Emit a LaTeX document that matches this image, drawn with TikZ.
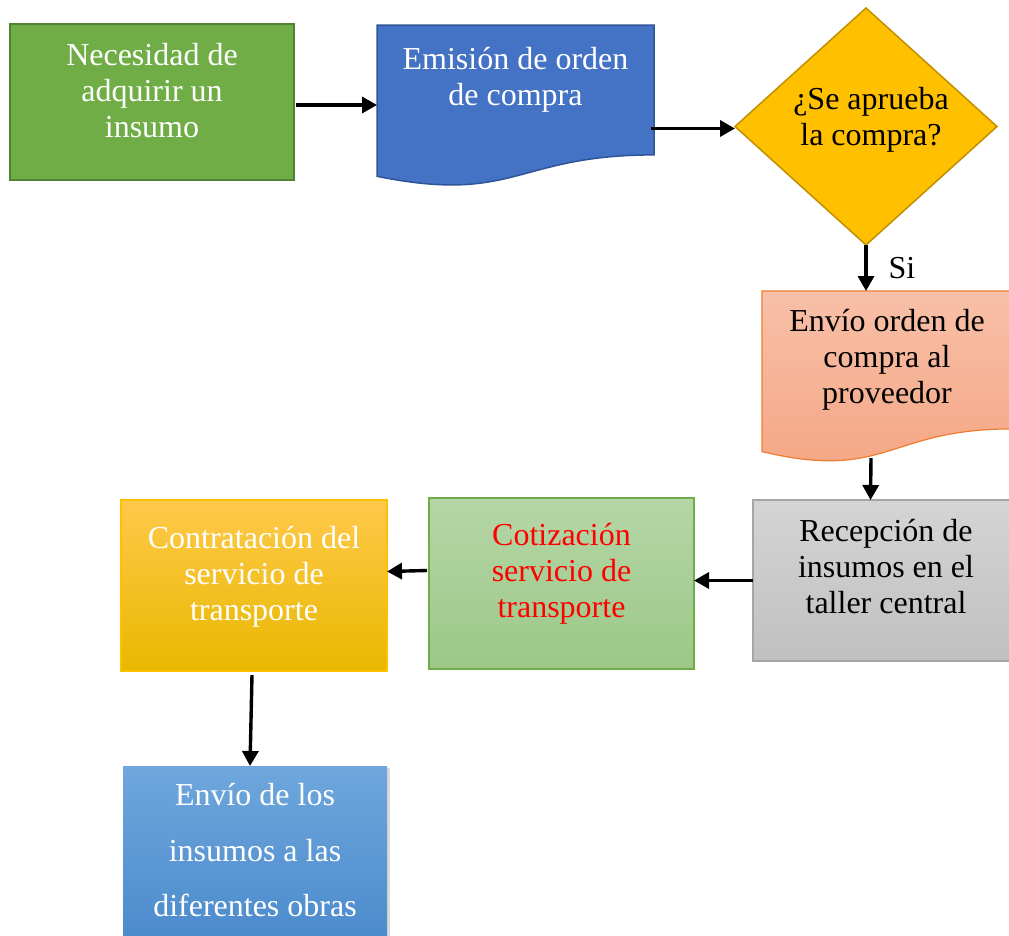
\documentclass[tikz,border=0pt]{standalone}
\usepackage{fontspec}
\setmainfont{Liberation Serif}
\usetikzlibrary{shapes.geometric,arrows.meta,shadows,calc}
\definecolor{gfill}{HTML}{70AD47}
\definecolor{gdraw}{HTML}{548235}
\definecolor{bfill}{HTML}{4472C4}
\definecolor{bdraw}{HTML}{2F5597}
\definecolor{yfill}{HTML}{FFC000}
\definecolor{ydraw}{HTML}{BF9000}
\definecolor{otop}{HTML}{F8C0A8}
\definecolor{obot}{HTML}{F4A582}
\definecolor{odraw}{HTML}{ED7D31}
\definecolor{graytop}{HTML}{D4D4D4}
\definecolor{graybot}{HTML}{C0C0C0}
\definecolor{graydraw}{HTML}{A6A6A6}
\definecolor{g2top}{HTML}{B5D6A7}
\definecolor{g2bot}{HTML}{9CC887}
\definecolor{ytop}{HTML}{FFC94A}
\definecolor{ybot}{HTML}{E8B800}
\definecolor{lbtop}{HTML}{6FA7DC}
\definecolor{lbbot}{HTML}{4787CB}
\definecolor{redtxt}{HTML}{FF0000}
\begin{document}
\begin{tikzpicture}[x=1pt,y=-1pt,
  box/.style={rectangle,inner sep=0pt,outer sep=0pt},
  ghost/.style={rectangle,inner sep=0pt,outer sep=0pt},
  txt/.style={inner sep=0pt,outer sep=0pt,anchor=base,align=flush center,text width=260pt,
    font=\fontsize{32}{36}\selectfont},
  arr/.style={line width=3.4pt,-{Triangle[length=15pt,width=16pt]}}]
\useasboundingbox (0,0) rectangle (1009,935);
\clip (0,0) rectangle (1009,935);

% boxes
\node[box,fill=gfill,draw=gdraw,line width=2pt,minimum width=284pt,minimum height=156pt] (n1) at (152,102) {};
\node[ghost,minimum width=277pt,minimum height=162pt] (n2) at (515.5,106) {};
\filldraw[fill=bfill,draw=bdraw,line width=1.5pt]
  (377,25) -- (654,25) -- (654,154.9) .. controls (515.5,154.9) and (515.5,204.4) .. (377,176.3) -- cycle;
\node[diamond,inner sep=0pt,outer sep=0pt,fill=yfill,draw=ydraw,line width=1.5pt,
  minimum width=262pt,minimum height=237pt] (n3) at (866,126.5) {};
\node[ghost,minimum width=250pt,minimum height=172pt] (n4) at (887,377) {};
\shade[top color=otop,bottom color=obot]
  (762,291) -- (1012,291) -- (1012,428.9) .. controls (887,428.9) and (887,481.5) .. (762,451.6) -- cycle;
\draw[draw=odraw,line width=1.2pt]
  (762,291) -- (1012,291) -- (1012,428.9) .. controls (887,428.9) and (887,481.5) .. (762,451.6) -- cycle;
\node[box,top color=graytop,bottom color=graybot,draw=graydraw,line width=1.5pt,
  minimum width=265pt,minimum height=161pt] (n6) at (885.5,580.5) {};
\node[box,top color=g2top,bottom color=g2bot,draw=gfill,line width=1.2pt,
  minimum width=265pt,minimum height=171pt] (n7) at (561.5,583.5) {};
\node[box,top color=ytop,middle color=yfill,bottom color=ybot,draw=yfill,line width=1.2pt,
  minimum width=266pt,minimum height=171pt] (n8) at (254,585.5) {};
\node[box,top color=lbtop,bottom color=lbbot,
  drop shadow={shadow xshift=3pt,shadow yshift=-2pt,opacity=0.3},
  minimum width=264pt,minimum height=194pt] (n9) at (255,863) {};

% texts
\node[txt,text=white] (t1) at (152,65) {Necesidad de\\adquirir un\\insumo};
\node[txt,text=white] (t2) at (515.5,69.3) {Emisión de orden\\de compra};
\node[txt,text=black,text width=200pt] (t3) at (871,109) {¿Se aprueba\\la compra?};
\node[txt,text=black] (t4) at (887,331.7) {Envío orden de\\compra al\\proveedor};
\node[txt,text=black] (t5) at (886,541.7) {Recepción de\\insumos en el\\taller central};
\node[txt,text=redtxt] (t6) at (561.5,545) {Cotización\\servicio de\\transporte};
\node[txt,text=white] (t7) at (254,548) {Contratación del\\servicio de\\transporte};
\node[txt,text=white,font=\fontsize{32}{55.5}\selectfont] (t8) at (255,805.7) {Envío de los\\insumos a las\\diferentes obras};

% connectors
\draw[arr] ($(n1.east)+(2,3)$) -- ($(n1.east -| n2.west)+(0,3)$);
\draw[arr] ($(n2.east |- n3.west)+(-3,2)$) -- ($(n3.west)+(0,2)$);
\draw[arr] (n3.south) -- (n3.south |- n4.north);
\node[inner sep=0pt,anchor=base,font=\fontsize{32}{36}\selectfont] (si) at (902,278) {Si};
\draw[arr] ($(n4.south)+(-16,-5)$) -- ($(n6.north)+(-15,0)$);
\draw[arr] (n6.west) -- (n6.west -| n7.east);
\draw[arr] ($(n7.west)+(-2,-13)$) -- ($(n7.west -| n8.east)+(0,-12)$);
\draw[arr] ($(n8.south)+(-2,4)$) -- ($(n9.north)+(-5,0)$);
\end{tikzpicture}
\end{document}
